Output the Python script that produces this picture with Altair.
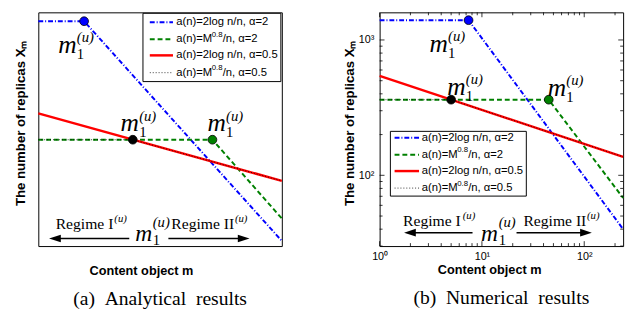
import altair as alt
import pandas as pd

# ---------------- data ----------------
SERIES = ["a(n)=2log n/n, α=2", "a(n)=M^0.8/n, α=2", "a(n)=2log n/n, α=0.5", "a(n)=M^0.8/n, α=0.5"]

# (a) analytical results (schematic, unit-less 0..100)
a_blue_x = [0, 18.8, 100]
a_blue_y = [96.2, 96.2, 2.2]
a_green_x = [0, 71.5, 100]
a_green_y = [45.5, 45.5, 11.8]
a_red_x = [0, 100]
a_red_y = [56.8, 27.9]
a_black_x = [0, 38.8, 100]
a_black_y = [45.5, 45.5, 27.9]
a_dot_x = [18.8, 38.8, 71.5]
a_dot_y = [96.2, 45.5, 45.5]

# (b) numerical results (log-log)
b_blue_x = [1, 7.4, 240]
b_blue_y = [1400, 1400, 40]
b_green_x = [1, 45, 240]
b_green_y = [362, 362, 68]
b_red_x = [1, 240]
b_red_y = [543, 137]
b_black_x = [1, 5.0, 240]
b_black_y = [362, 362, 137]
b_dot_x = [7.4, 5.0, 45]
b_dot_y = [1400, 362, 362]

b_xtick_major = [1, 10, 100]
b_xtick_minor = [2, 3, 4, 5, 6, 7, 8, 9, 20, 30, 40, 50, 60, 70, 80, 90, 200]
b_ytick_major = [100, 1000]
b_ytick_minor = [30, 40, 50, 60, 70, 80, 90, 200, 300, 400, 500, 600, 700, 800, 900]

CAPTIONS = ["(a)\u2002Analytical\u2002results", "(b)\u2002Numerical\u2002results"]
YTITLE = "The number of replicas X\u2098"
XTITLE = "Content object m"

# ---------------- styles ----------------
W, H = 249, 239
SANS = "Liberation Sans"
SERIF = "Liberation Serif"
LINE_STY = [
    dict(color="#0000FF", strokeDash=[5, 2, 1, 2], strokeWidth=2),
    dict(color="#008000", strokeDash=[5, 3], strokeWidth=2),
    dict(color="#FF0000", strokeWidth=2.5),
    dict(color="#000000", strokeDash=[1, 2], strokeWidth=0.8),
]
DOT_COLORS = ["#0000FF", "#000000", "#008000"]
LEG_FS = 11.5
one = pd.DataFrame({"k": [0]})


def ptext(s, x, y, size, font=SERIF, style="normal", baseline="alphabetic"):
    return alt.Chart(one).mark_text(
        text=s, align="left", baseline=baseline, font=font, fontSize=size,
        fontStyle=style, color="black").encode(x=alt.value(x), y=alt.value(y))


def prule(x1, x2, y1, y2, width=1.0):
    return alt.Chart(one).mark_rule(color="black", strokeWidth=width).encode(
        x=alt.value(x1), x2=alt.value(x2), y=alt.value(y1), y2=alt.value(y2))


def arrowhead(x, y, direction):
    shape = "M-1,0L1,-0.65L1,0.65Z" if direction == "left" else "M1,0L-1,-0.65L-1,0.65Z"
    return alt.Chart(one).mark_point(shape=shape, size=144, filled=True, color="black",
                                     opacity=1).encode(x=alt.value(x), y=alt.value(y))


def build_panel(xs, ys, xaxis, yaxis, lines, dots, offsets, legend, regime, caption, ticks=None):
    X = lambda: alt.X("x:Q", scale=xs, axis=xaxis)
    Y = lambda: alt.Y("y:Q", scale=ys, axis=yaxis)
    layers = []
    for (lx, ly), sty in zip(lines, LINE_STY):
        df = pd.DataFrame({"x": lx, "y": ly})
        layers.append(alt.Chart(df).mark_line(**sty).encode(x=X(), y=Y()))
    dx_, dy_ = dots
    ddf = pd.DataFrame({"x": dx_, "y": dy_, "c": DOT_COLORS})
    layers.append(alt.Chart(ddf).mark_circle(size=80, stroke="black", strokeWidth=0.8, opacity=1).encode(
        x=X(), y=Y(), fill=alt.Fill("c:N", scale=None)))
    # m_1^(u) labels at the dots
    for i, (ox, oy) in enumerate(offsets):
        df = pd.DataFrame({"x": [dx_[i]], "y": [dy_[i]]})
        base = alt.Chart(df).encode(x=X(), y=Y())
        layers.append(base.mark_text(text="m", align="left", baseline="alphabetic", font=SERIF,
                                     fontSize=26, fontStyle="italic", dx=ox, dy=oy, color="black"))
        layers.append(base.mark_text(text="(u)", align="left", baseline="alphabetic", font=SERIF,
                                     fontSize=15, fontStyle="italic", dx=ox + 19, dy=oy - 11, color="black"))
        layers.append(base.mark_text(text="1", align="left", baseline="alphabetic", font=SERIF,
                                     fontSize=15, dx=ox + 19, dy=oy + 6, color="black"))
    # inward ticks
    if ticks is not None:
        xmaj, xmin, ymaj, ymin = ticks
        for vals, ln in ((xmaj, 5), (xmin, 3)):
            df = pd.DataFrame({"x": vals})
            layers.append(alt.Chart(df).mark_rule(color="black", strokeWidth=0.8).encode(
                x=X(), y=alt.value(H), y2=alt.value(H - ln)))
            layers.append(alt.Chart(df).mark_rule(color="black", strokeWidth=0.8).encode(
                x=X(), y=alt.value(0), y2=alt.value(ln)))
        for vals, ln in ((ymaj, 5), (ymin, 3)):
            df = pd.DataFrame({"y": vals})
            layers.append(alt.Chart(df).mark_rule(color="black", strokeWidth=0.8).encode(
                y=Y(), x=alt.value(0), x2=alt.value(ln)))
            layers.append(alt.Chart(df).mark_rule(color="black", strokeWidth=0.8).encode(
                y=Y(), x=alt.value(W), x2=alt.value(W - ln)))
    # legend
    bx0, bx1, by0, by1, rows, sx0, sx1, tx = legend
    layers.append(alt.Chart(one).mark_rect(fill="white", stroke="black", strokeWidth=1).encode(
        x=alt.value(bx0), x2=alt.value(bx1), y=alt.value(by0), y2=alt.value(by1)))
    for i, (ry, sty) in enumerate(zip(rows, LINE_STY)):
        layers.append(alt.Chart(one).mark_rule(**sty).encode(
            x=alt.value(sx0), x2=alt.value(sx1), y=alt.value(ry), y2=alt.value(ry)))
        if "^0.8" in SERIES[i]:
            head, rest = SERIES[i].split("^0.8")
            layers.append(ptext(head, tx, ry, LEG_FS, font=SANS, baseline="middle"))
            layers.append(ptext("0.8", tx + 36.3, ry - 4.5, 8, font=SANS, baseline="middle"))
            layers.append(ptext(rest, tx + 47.5, ry, LEG_FS, font=SANS, baseline="middle"))
        else:
            layers.append(ptext(SERIES[i], tx, ry, LEG_FS, font=SANS, baseline="middle"))
    # regime annotation
    (r1x, r2x, rb, supdx1, supdx2, ay, a1tip, a1tail, a2tail, a2tip, mx) = regime
    layers += [
        ptext("Regime I", r1x, rb, 16),
        ptext("(u)", r1x + supdx1, rb - 7, 11, style="italic"),
        ptext("Regime II", r2x, rb, 16),
        ptext("(u)", r2x + supdx2, rb - 7, 11, style="italic"),
        prule(a1tip + 8, a1tail, ay, ay, width=1.6),
        arrowhead(a1tip + 6, ay, "left"),
        prule(a2tail, a2tip - 8, ay, ay, width=1.6),
        arrowhead(a2tip - 6, ay, "right"),
        ptext("m", mx, H - 5, 24, style="italic"),
        ptext("(u)", mx + 18, H - 19, 15, style="italic"),
        ptext("1", mx + 18, H - 1, 15),
    ]
    return alt.layer(*layers).properties(
        width=W, height=H,
        title=alt.TitleParams(caption, orient="bottom", font=SERIF, fontSize=20, fontWeight="normal",
                              color="black", offset=12, frame="group", anchor="middle"))


# ---- panel (a) ----
xa = alt.Scale(domain=[0, 100], nice=False, zero=False)
ya = alt.Scale(domain=[0, 100], nice=False, zero=False)
xaxis_a = alt.Axis(title=XTITLE, labels=False, ticks=False, domain=False, grid=False,
                   titleFont=SANS, titleFontSize=13, titleFontWeight="bold", titleColor="black",
                   titlePadding=19, titleX=105, titleAlign="center")
yaxis_a = alt.Axis(title=YTITLE, labels=False, ticks=False, domain=False, grid=False,
                   titleFont=SANS, titleFontSize=13.5, titleFontWeight="bold", titleColor="black",
                   titlePadding=11, titleY=113, titleAlign="center")
panel_a = build_panel(
    xa, ya, xaxis_a, yaxis_a,
    [(a_blue_x, a_blue_y), (a_green_x, a_green_y), (a_red_x, a_red_y), (a_black_x, a_black_y)],
    (a_dot_x, a_dot_y),
    [(-26.5, 32.7), (-12.5, -8.5), (-5, -8.5)],
    (107, 248, 1, 70.8, [10.1, 27.5, 44.0, 61.7], 114, 137.7, 141),
    (17.7, 136, H - 17.7, 60, 65, H - 7.7, 11, 93, 133, 216, 99),
    CAPTIONS[0])

# ---- panel (b) ----
xb = alt.Scale(type="log", domain=[1, 240], nice=False)
yb = alt.Scale(type="log", domain=[30, 1600], nice=False)
xaxis_b = alt.Axis(title=XTITLE, values=b_xtick_major, ticks=False, tickSize=0, domain=False, grid=False,
                   labelExpr="datum.value == 1 ? '10\u2070' : datum.value == 10 ? '10\u00b9' : '10\u00b2'",
                   labelFont=SANS, labelFontSize=11, labelColor="black", labelPadding=5, labelFlush=False,
                   titleFont=SANS, titleFontSize=13, titleFontWeight="bold", titleColor="black",
                   titlePadding=2, titleX=112, titleAlign="center")
yaxis_b = alt.Axis(title=YTITLE, values=b_ytick_major, ticks=False, tickSize=0, domain=False, grid=False,
                   labelExpr="datum.value == 100 ? '10\u00b2' : '10\u00b3'",
                   labelFont=SANS, labelFontSize=11, labelColor="black", labelPadding=6, labelFlush=False,
                   titleFont=SANS, titleFontSize=13.5, titleFontWeight="bold", titleColor="black",
                   titlePadding=2, titleY=113, titleAlign="center")
panel_b = build_panel(
    xb, yb, xaxis_b, yaxis_b,
    [(b_blue_x, b_blue_y), (b_green_x, b_green_y), (b_red_x, b_red_y), (b_black_x, b_black_y)],
    (b_dot_x, b_dot_y),
    [(-40, 32.7), (-4, -5), (-1, -4)],
    (11, 150, 121.7, 187.9, [128.2, 145.6, 162.3, 179.7], 15.3, 40.3, 43),
    (24, 147, H - 20.3, 61, 65, H - 13.7, 25, 95, 140, 217, 103.7),
    CAPTIONS[1],
    ticks=(b_xtick_major, b_xtick_minor, b_ytick_major, b_ytick_minor))

chart = alt.hconcat(panel_a, panel_b, spacing=55).properties(
    padding={"left": 5, "top": 0, "right": 0, "bottom": 0}
).configure_view(stroke="black", strokeWidth=1)

chart.save("out.html", embed_options={"renderer": "svg", "actions": False})
